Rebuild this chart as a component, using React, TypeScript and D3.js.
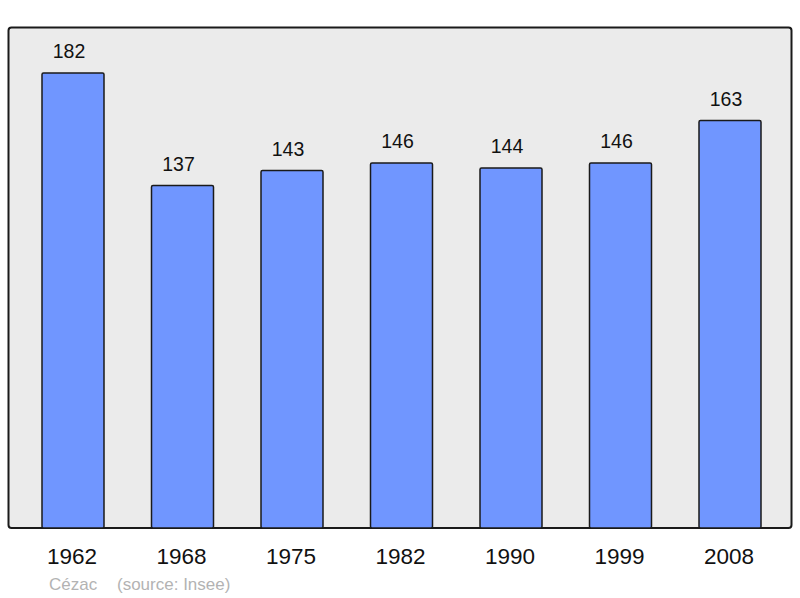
import React from 'react';
import * as d3 from 'd3';

const years = ['1962', '1968', '1975', '1982', '1990', '1999', '2008'];
const population = [182, 137, 143, 146, 144, 146, 163];
const commune = 'Cézac';
const source = '(source: Insee)';

const App = () => {
  const panel = { left: 8.5, top: 27.5, right: 791.5, bottom: 528 };
  const barWidth = 62;

  const xScale = d3.scalePoint()
    .domain(years)
    .range([18.25, 784.75])
    .padding(0.5);

  const yScale = d3.scaleLinear()
    .domain([0, 200])
    .range([panel.bottom, panel.bottom - 500]);

  const font = '"Liberation Sans", Arial, sans-serif';

  return (
    <svg width={800} height={598} style={{ position: 'absolute', left: 0, top: 0 }}>
      <rect
        x={panel.left}
        y={panel.top}
        width={panel.right - panel.left}
        height={panel.bottom - panel.top}
        rx={3}
        fill="#ebebeb"
        stroke="#1a1a1a"
        strokeWidth={2}
      />
      {years.map((year, i) => {
        const cx = xScale(year);
        const top = yScale(population[i]);
        return (
          <g key={year}>
            <rect
              x={cx - barWidth / 2}
              y={top}
              width={barWidth}
              height={yScale(0) - top}
              rx={1.5}
              fill="#7096ff"
              stroke="#1a1a1a"
              strokeWidth={1.5}
            />
            <text
              x={cx - 4}
              y={top - 15}
              textAnchor="middle"
              fontFamily={font}
              fontSize={19.5}
              fill="#111"
            >
              {population[i]}
            </text>
            <text
              x={cx - 1}
              y={564}
              textAnchor="middle"
              fontFamily={font}
              fontSize={22.5}
              fill="#111"
            >
              {year}
            </text>
          </g>
        );
      })}
      <text x={49} y={590} fontFamily={font} fontSize={17} fill="#b3b3b3">
        {commune}
      </text>
      <text x={117} y={590} fontFamily={font} fontSize={17} fill="#b3b3b3">
        {source}
      </text>
    </svg>
  );
};

export default App;
